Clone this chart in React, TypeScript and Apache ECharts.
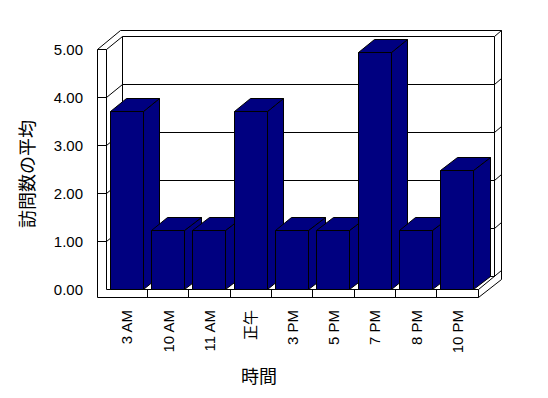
import React, { useEffect, useRef } from "react";
import * as echarts from "echarts";

const categories = ["3 AM", "10 AM", "11 AM", "正午", "3 PM", "5 PM", "7 PM", "8 PM", "10 PM"];
const visitAverages = [3.7, 1.22, 1.22, 3.7, 1.22, 1.22, 4.93, 1.22, 2.47];
const yTicks = [0, 1, 2, 3, 4, 5];
const xTitle = "時間";
const yTitle = "訪問数の平均";

const DX = 16.5;
const DY = -12.5;
const OUT = 1.45;
const WALL = 9;
const FLOOR = 8.5;
const BAR_RATIO = 0.806;
const NAVY = "#000080";
const FONT = "'Liberation Sans', Arial, 'Noto Sans CJK JP', sans-serif";

const px = (v: number) => Math.round(v - 0.5) + 0.5;
const pt = (x: number, y: number) => [px(x), px(y)];

function line(x1: number, y1: number, x2: number, y2: number) {
  return {
    type: "line",
    shape: { x1: px(x1), y1: px(y1), x2: px(x2), y2: px(y2) },
    style: { stroke: "#000", lineWidth: 1 },
    silent: true,
  };
}

export default function App() {
  const ref = useRef<HTMLDivElement>(null);

  useEffect(() => {
    if (!ref.current) return;
    const chart = echarts.init(ref.current, null, { renderer: "svg" });

    const frameRender = (params: any, api: any) => {
      const cs = params.coordSys;
      const L = cs.x;
      const T = cs.y;
      const R = cs.x + cs.width;
      const B = cs.y + cs.height;
      const bw = api.size([1, 0])[0];
      const children: any[] = [];
      children.push({
        type: "polygon",
        shape: {
          points: [
            pt(L - WALL, T),
            pt(L - WALL + DX * OUT, T + DY * OUT),
            pt(R + DX * OUT, T + DY * OUT),
            pt(R + DX * OUT, B + FLOOR + DY * OUT),
            pt(R, B + FLOOR),
            pt(L - WALL, B + FLOOR),
          ],
        },
        style: { fill: "#fff", stroke: "#000", lineWidth: 1 },
        silent: true,
      });
      children.push({
        type: "polygon",
        shape: {
          points: [
            pt(L + DX, T + DY),
            pt(R + DX, T + DY),
            pt(R + DX, B + DY),
            pt(L + DX, B + DY),
          ],
        },
        style: { fill: "#fff", stroke: "#000", lineWidth: 1 },
        silent: true,
      });
      children.push(line(L, T, L, B));
      children.push(line(L, T, L + DX, T + DY));
      children.push(line(L - WALL, T, L, T));
      children.push(line(L, B, R, B));
      children.push(line(R, B, R, B + FLOOR));
      children.push(line(R, B, R + DX * OUT, B + DY * OUT));
      children.push(line(R + DX, T + DY, R + DX * OUT, T + DY * OUT));
      for (let i = 1; i < categories.length; i++) {
        const x = L + i * bw;
        children.push(line(x, B, x, B + FLOOR));
      }
      yTicks.forEach((v) => {
        if (v === yTicks[0] || v === yTicks[yTicks.length - 1]) return;
        const y = api.coord([0, v])[1];
        children.push(line(L - WALL, y, L, y));
        children.push(line(L, y, L + DX, y + DY));
        children.push(line(L + DX, y + DY, R + DX, y + DY));
        children.push(line(R + DX, y + DY, R + DX * OUT, y + DY * OUT));
      });
      return { type: "group", children };
    };

    const barRender = (params: any, api: any) => {
      const idx = api.value(0);
      const v = api.value(1);
      const c0 = api.coord([idx, 0]);
      const c1 = api.coord([idx, v]);
      const bw = api.size([1, 0])[0];
      const w = bw * BAR_RATIO;
      const xl = c0[0] - w / 2;
      const xr = c0[0] + w / 2;
      const yb = c0[1];
      const yt = c1[1];
      const st = { fill: NAVY, stroke: "#000", lineWidth: 1 };
      return {
        type: "group",
        children: [
          {
            type: "polygon",
            shape: { points: [pt(xr, yb), pt(xr, yt), pt(xr + DX, yt + DY), pt(xr + DX, yb + DY)] },
            style: st,
          },
          {
            type: "polygon",
            shape: { points: [pt(xl, yt), pt(xr, yt), pt(xr + DX, yt + DY), pt(xl + DX, yt + DY)] },
            style: st,
          },
          {
            type: "polygon",
            shape: { points: [pt(xl, yt), pt(xr, yt), pt(xr, yb), pt(xl, yb)] },
            style: st,
          },
        ],
      };
    };

    chart.setOption({
      animation: false,
      backgroundColor: "#fff",
      grid: { left: 106, top: 49, width: 372, height: 240, containLabel: false },
      xAxis: {
        type: "category",
        data: categories,
        name: xTitle,
        nameLocation: "middle",
        nameGap: 79,
        nameTextStyle: { fontSize: 18, color: "#000", fontFamily: FONT, padding: [0, 66, 0, 0] },
        axisLine: { show: false },
        axisTick: { show: false },
        axisLabel: { rotate: 90, margin: 21, fontSize: 15, color: "#000", fontFamily: FONT, interval: 0 },
        splitLine: { show: false },
      },
      yAxis: {
        type: "value",
        min: 0,
        max: 5,
        interval: 1,
        name: yTitle,
        nameLocation: "middle",
        nameRotate: 90,
        nameGap: 69,
        nameTextStyle: { fontSize: 18, color: "#000", fontFamily: FONT, padding: [0, 10, 0, 0] },
        axisLine: { show: false },
        axisTick: { show: false },
        splitLine: { show: false },
        axisLabel: {
          margin: 23,
          fontSize: 15,
          color: "#000",
          fontFamily: FONT,
          formatter: (v: number) => v.toFixed(2),
        },
      },
      series: [
        {
          type: "custom",
          renderItem: frameRender,
          data: [[0, 0]],
          z: 1,
          silent: true,
        },
        {
          type: "custom",
          renderItem: barRender,
          data: visitAverages.map((v, i) => [i, v]),
          z: 2,
          silent: true,
        },
      ],
    });

    return () => chart.dispose();
  }, []);

  return (
    <div
      ref={ref}
      style={{ position: "fixed", left: 0, top: 0, width: 548, height: 398, background: "#fff" }}
    />
  );
}
